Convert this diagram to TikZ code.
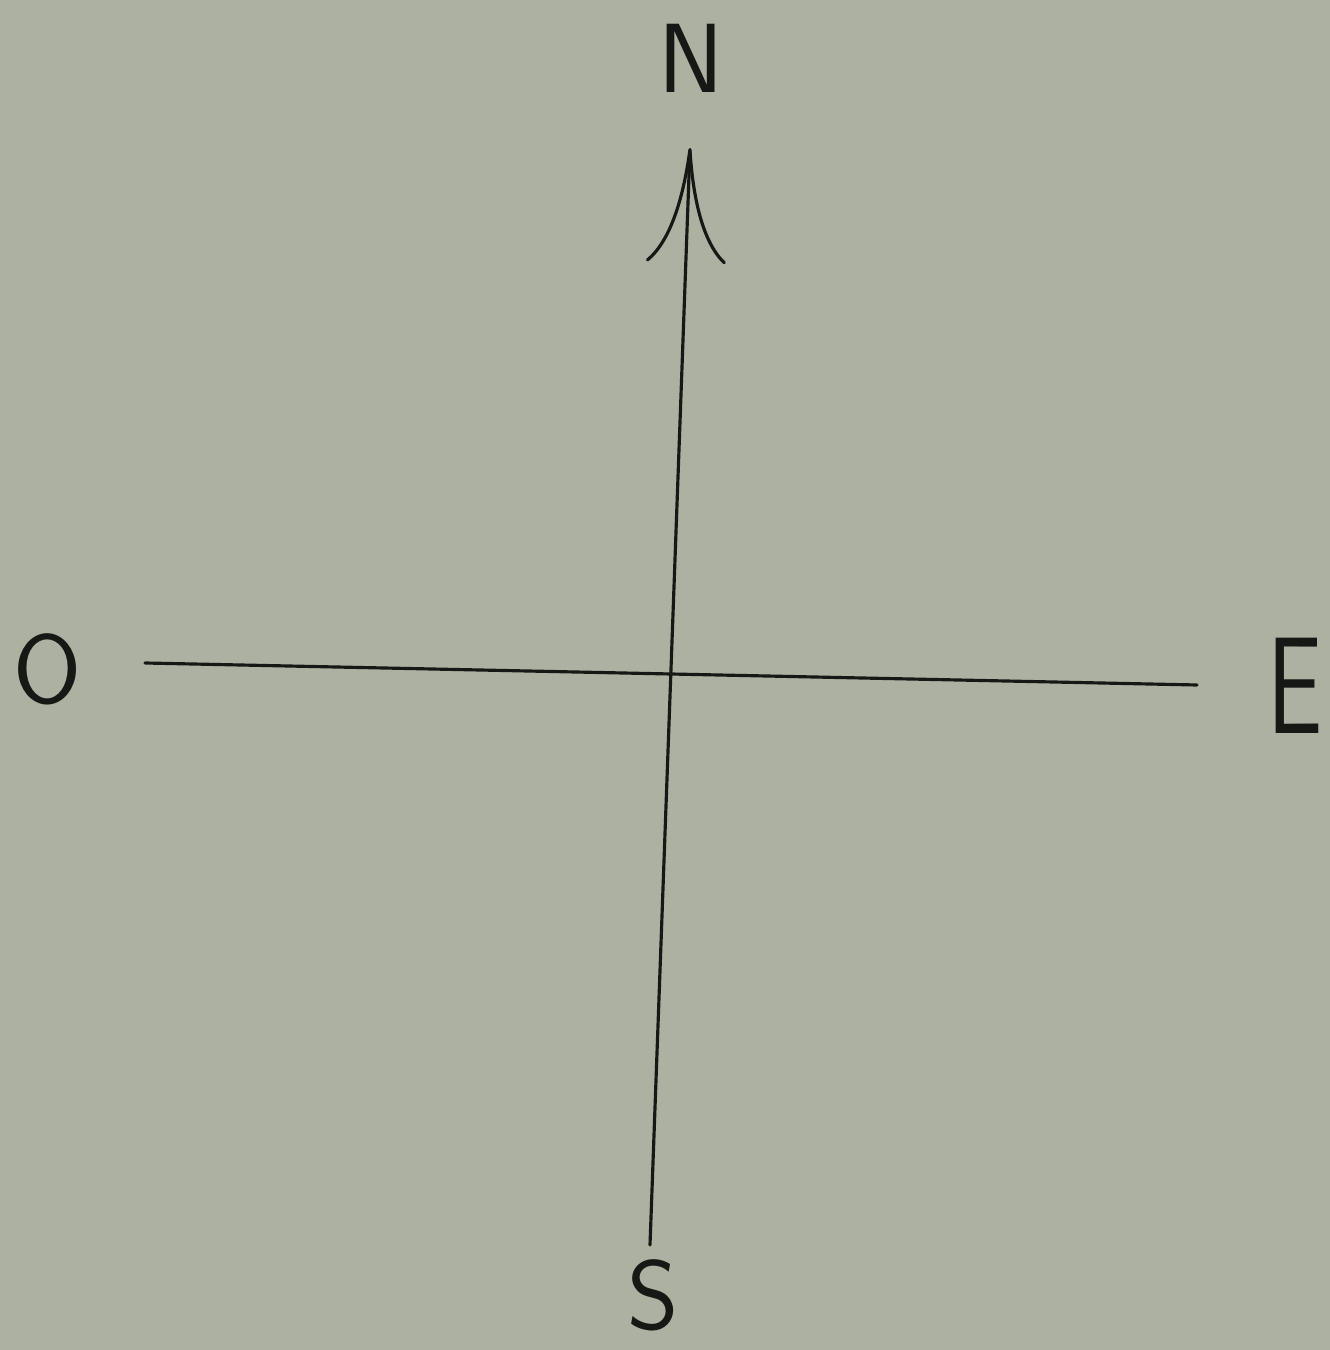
\documentclass[tikz,border=0pt]{standalone}
\usetikzlibrary{arrows.meta}
\definecolor{paper}{RGB}{172,177,162}
\definecolor{pencil}{RGB}{22,24,22}
\begin{document}
\begin{tikzpicture}[
      letter/.style={
        text=pencil,
        inner sep=0pt,
        font=\fontsize{28}{30}\selectfont\sffamily
      },
      axis/.style={draw=pencil, line width=0.9pt, line cap=round},
      northarr/.style={axis, -{Computer Modern Rightarrow[length=11.5mm,width=8mm,line width=0.9pt]}}
    ]
    \fill[paper] (0,0) rectangle (13.3,13.5);
    \useasboundingbox (0,0) rectangle (13.3,13.5);
    
    \coordinate (northEnd) at (6.90,12.02);
    \coordinate (southEnd) at (6.50,1.05);
    \coordinate (westEnd) at (1.45,6.87);
    \coordinate (eastEnd) at (11.97,6.65);
    
    \node[letter] (north) at (6.91,12.92) {N};
    \node[letter] (west) at (0.48,6.81) {O};
    \node[letter, yscale=1.4] (east) at (12.95,6.64) {E};
    \node[letter] (south) at (6.53,0.55) {S};
    
    \draw[northarr] (southEnd) -- (northEnd);
    \draw[axis] (westEnd) -- (eastEnd);
    \end{tikzpicture}
\end{document}
